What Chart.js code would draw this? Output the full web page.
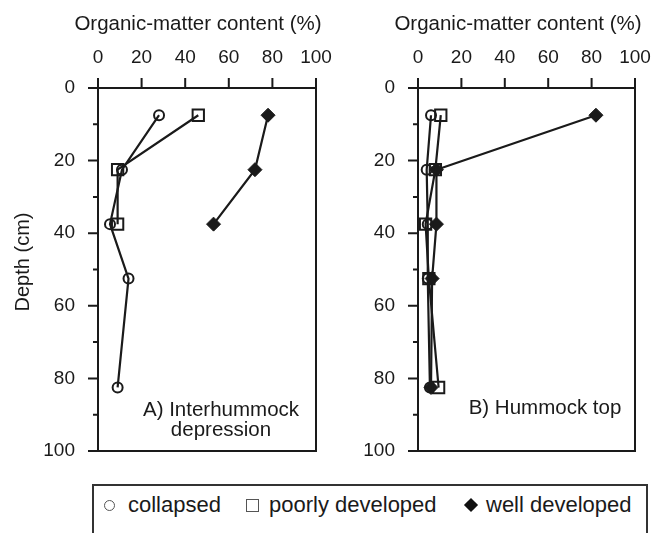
<!DOCTYPE html>
<html><head><meta charset="utf-8">
<script src="https://cdn.jsdelivr.net/npm/chart.js@4/dist/chart.umd.min.js"></script>
<style>
html,body{margin:0;padding:0;background:#fff;width:652px;height:533px;overflow:hidden;font-family:"Liberation Sans",Arial,sans-serif;color:#1a1a1a;}
#wrapA{position:absolute;left:0;top:0;width:345px;height:470px;}
#wrapB{position:absolute;left:330px;top:0;width:322px;height:470px;}
#legend{position:absolute;left:92px;top:484px;width:552px;height:70px;border:2px solid #333;}
.lt{position:absolute;top:6px;font-size:22px;line-height:26px;white-space:nowrap;}
.mk{position:absolute;box-sizing:border-box;}
.mc{top:14px;width:11px;height:11px;border:1px solid #555;border-radius:50%;}
.ms{top:13px;width:13px;height:13px;border:1px solid #555;}
.md{top:14px;width:10px;height:10px;background:#111;transform:rotate(45deg);}
</style></head>
<body>
<div id="wrapA"><canvas id="cA" width="345" height="470"></canvas></div>
<div id="wrapB"><canvas id="cB" width="322" height="470"></canvas></div>
<div id="legend">
  <span class="mk mc" style="left:10px"></span><div class="lt" style="left:34px">collapsed</div>
  <span class="mk ms" style="left:152px"></span><div class="lt" style="left:175px">poorly developed</div>
  <span class="mk md" style="left:372px"></span><div class="lt" style="left:392px">well developed</div>
</div>
<script>
// ---- data ----
const depthsA_collapsed = [7.5, 22.5, 37.5, 52.5, 82.5];
const A_collapsed = [28, 11, 5.5, 14, 9];
const depthsA_poorly = [7.5, 22.5, 37.5];
const A_poorly = [46, 9, 9];
const depthsA_well = [7.5, 22.5, 37.5];
const A_well = [78, 72, 53];

const depthsB = [7.5, 22.5, 37.5, 52.5, 82.5];
const B_collapsed = [6, 4, 4.5, 4.5, 5.5];
const B_poorly = [10.5, 8, 3.5, 5, 9.5];
const B_well = [82, 8.5, 8.5, 6.5, 6];

const xTickVals = [0, 20, 40, 60, 80, 100];
const yTickVals = [0, 10, 20, 30, 40, 50, 60, 70, 80, 90, 100];

const FONT = '"Liberation Sans", Arial, sans-serif';
const INK = '#1a1a1a';

function pts(xs, ys){ return xs.map((v,i)=>({x:v, y:ys[i]})); }

function ds(label, data, style){
  const base = {label, data, showLine:true, borderColor:INK, borderWidth:2.2,
    pointBorderColor:INK, pointBorderWidth:2, pointHoverRadius:0};
  if(style==='circle') Object.assign(base,{pointStyle:'circle', pointRadius:5, pointBackgroundColor:'rgba(0,0,0,0)'});
  if(style==='rect') Object.assign(base,{pointStyle:'rect', pointRadius:8, pointBackgroundColor:'rgba(0,0,0,0)'});
  if(style==='rectRot') Object.assign(base,{pointStyle:'rectRot', pointRadius:7, pointBackgroundColor:INK, pointBorderWidth:1});
  return base;
}

const framePlugin = {
  id:'frame',
  afterDraw(chart){
    const {ctx, chartArea:a, scales:{x,y}} = chart;
    const o = chart.options.plugins.frame;
    ctx.save();
    ctx.strokeStyle = INK; ctx.lineWidth = 2;
    ctx.strokeRect(a.left, a.top, a.right-a.left, a.bottom-a.top);
    ctx.beginPath();
    yTickVals.forEach(v=>{
      const py = y.getPixelForValue(v);
      const len = (v % 20 === 0) ? 10 : 5;
      ctx.moveTo(a.left-len, py); ctx.lineTo(a.left, py);
    });
    xTickVals.forEach(v=>{
      const px = x.getPixelForValue(v);
      ctx.moveTo(px, a.top-10); ctx.lineTo(px, a.top);
    });
    ctx.stroke();
    ctx.fillStyle = INK;
    ctx.textBaseline = 'alphabetic';
    ctx.font = '20.5px ' + FONT;
    ctx.textAlign = 'center';
    ctx.fillText('Organic-matter content (%)', o.titleX, 30);
    ctx.font = '20.5px ' + FONT;
    o.lines.forEach((t,i)=> ctx.fillText(t, o.cx, o.y0 + i*20));
    if(o.yTitle){
      ctx.translate(29, 262);
      ctx.rotate(-Math.PI/2);
      ctx.font = '20px ' + FONT;
      ctx.fillText(o.yTitle, 0, 0);
    }
    ctx.restore();
  }
};

function makeChart(id, datasets, yWidth, padRight, label){
  return new Chart(document.getElementById(id), {
    type:'scatter',
    data:{datasets},
    plugins:[framePlugin],
    options:{
      responsive:false, animation:false, devicePixelRatio:1,
      layout:{padding:{left:0, right:padRight, top:0, bottom:19}},
      plugins:{legend:{display:false}, tooltip:{enabled:false}, frame:label},
      scales:{
        x:{type:'linear', position:'top', min:0, max:100,
           grid:{display:false, drawTicks:false}, border:{display:false},
           ticks:{stepSize:20, color:INK, font:{family:FONT, size:19}, padding:19, maxRotation:0},
           afterFit(s){ s.height = 88; s.paddingLeft = 0; s.paddingRight = 0; }},
        y:{type:'linear', position:'left', reverse:true, min:0, max:100,
           grid:{display:false, drawTicks:false}, border:{display:false},
           ticks:{stepSize:20, color:INK, font:{family:FONT, size:19}, padding:23},
           afterFit(s){ s.width = yWidth; s.paddingTop = 0; s.paddingBottom = 0; }}
      }
    }
  });
}

makeChart('cA', [
  ds('collapsed', pts(A_collapsed, depthsA_collapsed), 'circle'),
  ds('poorly developed', pts(A_poorly, depthsA_poorly), 'rect'),
  ds('well developed', pts(A_well, depthsA_well), 'rectRot')
], 98, 29, {lines:['A) Interhummock','depression'], cx:221, y0:416, titleX:198, yTitle:'Depth (cm)'});

makeChart('cB', [
  ds('collapsed', pts(B_collapsed, depthsB), 'circle'),
  ds('poorly developed', pts(B_poorly, depthsB), 'rect'),
  ds('well developed', pts(B_well, depthsB), 'rectRot')
], 88, 17, {lines:['B) Hummock top'], cx:215, y0:414, titleX:188, yTitle:null});
</script>
</body></html>
